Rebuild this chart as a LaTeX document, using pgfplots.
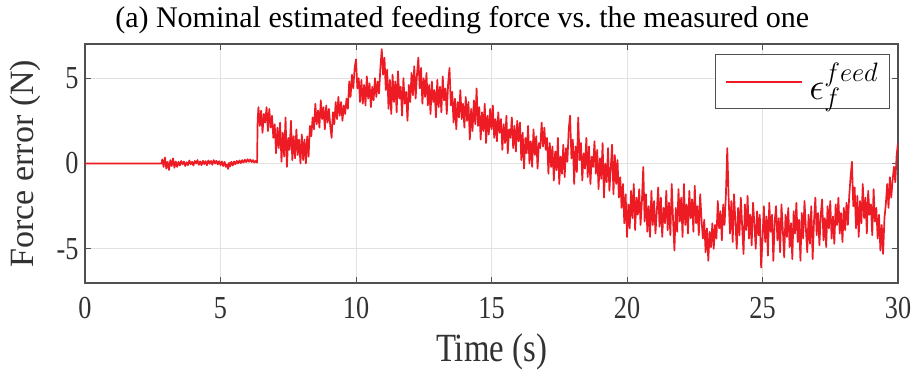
\RequirePackage{fix-cm}
\documentclass[border=0pt]{standalone}
\usepackage{fontspec}
\setmainfont{Liberation Serif}
\newfontfamily\narrowserif[FakeStretch=0.82]{Liberation Serif}
\usepackage{pgfplots}
\pgfplotsset{compat=1.18}
\definecolor{matred}{RGB}{237,28,36}
\definecolor{axgray}{RGB}{80,80,80}
\definecolor{gridgray}{RGB}{226,226,226}
\definecolor{txtgray}{RGB}{50,50,50}

\begin{document}
\begin{tikzpicture}
\begin{axis}[
  scale only axis,
  width=813pt, height=239pt,
  xmin=0, xmax=30, ymin=-7, ymax=7,
  xtick={0,5,10,15,20,25,30},
  xticklabels={0,5,10,15,20,25,30},
  ytick={-5,0,5},
  yticklabels={-5,0,5},
  tick align=inside,
  major tick length=6pt,
  tick style={axgray, line width=1pt},
  axis line style={axgray, line width=1.3pt},
  grid=major,
  grid style={gridgray, line width=1pt},
  ticklabel style={font=\narrowserif\fontsize{32}{32}\selectfont, text=txtgray},
  xticklabel style={anchor=north, yshift=-11pt},
  yticklabel style={anchor=east, xshift=-3pt},
  xlabel={Time (s)},
  ylabel={Force error (N)},
  xlabel style={font=\narrowserif\fontsize{40}{40}\selectfont, text=txtgray,
    at={(axis description cs:0.5,0)}, anchor=center, yshift=-69pt},
  ylabel style={font=\fontsize{34}{34}\selectfont, text=txtgray,
    at={(axis description cs:0,0.5)}, anchor=center, yshift=60pt},
  title={(a) Nominal estimated feeding force vs.\ the measured one},
  title style={font=\fontsize{30}{30}\selectfont, text=black,
    at={(axis description cs:0.464,1)}, anchor=base, yshift=10pt},
  legend style={at={(0.990,0.958)}, anchor=north east,
    draw=axgray, line width=1.2pt, font=\fontsize{38}{38}\selectfont,
    inner xsep=9pt, inner ysep=6pt,
    /tikz/every odd column/.append style={column sep=5pt}},
  legend image code/.code={\draw[#1, line width=1.7pt] (0pt,0pt) -- (76pt,0pt);},
]
\addplot[matred, line width=1.7pt, line join=round] coordinates {
(0,0) (2.83,0)
(2.85,0.25) (2.90,-0.2) (2.95,0.35) (3.00,-0.3) (3.05,0.1) (3.10,-0.38) (3.15,0.2) (3.20,-0.15) (3.25,0.3) (3.30,-0.25) (3.35,0.12) (3.40,-0.2)
(3.45,0.1) (3.50,-0.12) (3.55,0.15) (3.60,-0.05) (3.65,0.12) (3.70,-0.15) (3.75,0.08) (3.80,-0.1) (3.85,0.18) (3.90,-0.05) (3.95,0.1) (4.00,-0.12)
(4.05,0.15) (4.10,0.0) (4.15,0.2) (4.20,-0.08) (4.25,0.12) (4.30,-0.1) (4.35,0.16) (4.40,-0.04) (4.45,0.14) (4.50,-0.1) (4.55,0.18) (4.60,-0.02)
(4.65,0.15) (4.70,-0.08) (4.75,0.2) (4.80,0.0) (4.85,0.16) (4.90,-0.06) (4.95,0.14) (5.00,-0.1) (5.05,0.12) (5.10,-0.15) (5.15,0.1) (5.20,-0.2)
(5.25,-0.05) (5.28,-0.32) (5.32,0.05) (5.35,-0.18) (5.40,0.1) (5.45,-0.12) (5.50,0.12) (5.55,-0.05) (5.60,0.15) (5.65,0.0) (5.70,0.18) (5.75,0.02)
(5.80,0.2) (5.85,0.05) (5.90,0.22) (5.95,0.08) (6.00,0.25) (6.05,0.1) (6.10,0.24) (6.15,0.08) (6.20,0.2) (6.25,0.05) (6.30,0.15) (6.35,0.05)
(6.37,2.5) (6.40,3.3) (6.45,2.2) (6.50,3.1) (6.55,1.8) (6.60,2.9) (6.65,2.4) (6.70,3.3) (6.75,1.9) (6.80,3.2) (6.85,2.1) (6.90,2.8) (6.95,1.5) (7.00,2.3)
(7.05,0.6) (7.10,2.1) (7.15,0.9) (7.20,2.4) (7.25,0.1) (7.30,1.8)
(7.35,0.4) (7.40,2.7) (7.45,-0.2) (7.50,1.5) (7.55,0.8) (7.60,2.5) (7.65,0.2)
(7.70,1.6) (7.75,0.3) (7.80,2.0) (7.85,0.5) (7.90,1.4) (7.95,0.0) (8.00,1.7) (8.05,0.2)
(8.10,1.4) (8.15,0.0) (8.20,1.6) (8.25,0.4) (8.30,2.2) (8.35,1.6) (8.40,2.7)
(8.45,2.0) (8.50,3.5) (8.55,2.3) (8.60,3.1) (8.65,2.1) (8.70,3.7) (8.75,2.6) (8.80,3.3) (8.85,2.0) (8.90,3.4) (8.95,2.4) (9.00,3.2) (9.05,2.2) (9.10,1.5) (9.15,3.0) (9.20,2.3) (9.25,3.6)
(9.30,2.6) (9.35,3.9) (9.40,2.8) (9.45,3.6) (9.50,2.5) (9.55,3.4) (9.60,2.9) (9.65,3.8)
(9.70,3.2) (9.75,4.8) (9.80,3.9) (9.85,5.2) (9.90,4.4) (9.95,5.6) (10.00,6.1)
(10.05,4.4) (10.10,5.0) (10.15,3.6) (10.20,4.9) (10.25,3.5) (10.30,4.6) (10.35,3.4) (10.40,5.1) (10.45,3.8) (10.50,4.7) (10.55,3.3) (10.60,4.5) (10.65,3.7) (10.70,5.0) (10.75,3.9) (10.80,4.8) (10.85,4.1)
(10.90,5.6) (10.95,6.7) (11.00,5.2) (11.05,6.2)
(11.10,4.3) (11.15,5.5) (11.20,3.2) (11.25,4.9) (11.30,2.9) (11.35,5.2) (11.40,3.6) (11.45,4.8) (11.50,3.0) (11.55,5.4) (11.60,3.8) (11.65,4.5) (11.70,2.8) (11.75,5.0) (11.80,3.5) (11.85,4.2) (11.90,2.5) (11.95,4.6)
(12.00,3.6) (12.05,5.3) (12.10,4.0) (12.15,5.7) (12.20,3.8) (12.25,5.2) (12.30,6.2) (12.35,4.4) (12.40,5.6) (12.45,3.5) (12.50,5.0) (12.55,3.9)
(12.60,5.3) (12.65,3.4) (12.70,4.6) (12.75,2.9) (12.80,4.8) (12.85,3.6) (12.90,4.3) (12.95,2.7) (13.00,4.9) (13.05,3.3) (13.10,4.5) (13.15,3.0) (13.20,5.1) (13.25,3.7) (13.30,4.4) (13.35,2.9) (13.40,4.7) (13.45,5.6)
(13.50,3.4) (13.55,4.2) (13.60,2.4) (13.65,3.8) (13.70,2.0) (13.75,3.6) (13.80,2.7) (13.85,4.3) (13.90,2.6) (13.95,3.5) (14.00,2.1) (14.05,3.9)
(14.10,2.5) (14.15,3.6) (14.20,1.4) (14.25,3.2) (14.30,1.9) (14.35,3.7) (14.40,2.3) (14.45,4.4)
(14.50,2.2) (14.55,3.3) (14.60,1.4) (14.65,3.0) (14.70,1.9) (14.75,3.5) (14.80,1.2) (14.85,2.8) (14.90,1.7) (14.95,3.2) (15.00,2.0) (15.05,3.4) (15.10,1.5) (15.15,2.6) (15.20,1.3) (15.25,3.0)
(15.30,1.8) (15.35,2.6) (15.40,0.8) (15.45,2.3) (15.50,1.2) (15.55,2.8) (15.60,0.6) (15.65,2.0) (15.70,1.5) (15.75,2.7) (15.80,0.9) (15.85,2.2) (15.90,0.7) (15.95,2.5) (16.00,1.3)
(16.05,2.4) (16.10,0.2) (16.15,1.8) (16.20,-0.3) (16.25,1.5) (16.30,0.6) (16.35,2.2) (16.40,0.0) (16.45,1.3) (16.50,-0.2) (16.55,2.0) (16.60,0.5) (16.65,1.6) (16.70,-0.3) (16.75,1.2)
(16.80,0.9) (16.85,2.4) (16.90,1.0) (16.95,2.1) (17.00,0.8) (17.05,1.5)
(17.10,-0.6) (17.15,1.2) (17.20,-0.2) (17.25,1.0) (17.30,-1.0) (17.35,0.7) (17.40,-0.4) (17.45,1.5) (17.50,-1.2) (17.55,0.4) (17.60,-0.6)
(17.65,1.1) (17.70,-0.8) (17.75,0.9) (17.80,0.1) (17.85,2.0) (17.90,2.8) (17.95,0.3) (18.00,1.4) (18.05,-1.2) (18.10,1.0) (18.15,-0.5) (18.20,2.7) (18.25,0.2)
(18.30,1.2) (18.35,-1.0) (18.40,0.6) (18.45,-0.3) (18.50,1.5) (18.55,-0.8) (18.60,1.0) (18.65,-1.2) (18.70,0.4) (18.75,-0.2) (18.80,1.3) (18.85,-0.6)
(18.90,0.8) (18.95,-1.5) (19.00,0.3) (19.05,-0.9) (19.10,1.2) (19.15,-2.0) (19.20,0.0) (19.25,-1.1) (19.30,0.9) (19.35,-1.6) (19.40,-0.3) (19.45,1.1) (19.50,-1.8) (19.55,0.5) (19.60,-1.2) (19.65,0.2) (19.70,-2.0)
(19.75,-0.8) (19.80,-2.6) (19.85,-1.2) (19.90,-3.5) (19.95,-1.8) (20.00,-4.3) (20.05,-2.4) (20.10,-3.8)
(20.15,-1.6) (20.20,-3.2) (20.25,-1.2) (20.30,-3.9) (20.35,-2.0) (20.40,-3.0) (20.45,-1.5) (20.50,-3.6) (20.55,-2.2) (20.60,-0.2) (20.65,-3.4)
(20.70,-1.8) (20.75,-4.0) (20.80,-2.5) (20.85,-4.3) (20.90,-1.6) (20.95,-3.6) (21.00,-2.2) (21.05,-4.1) (21.10,-2.8) (21.15,-1.4) (21.20,-3.7) (21.25,-2.0) (21.30,-4.3) (21.35,-2.6) (21.40,-3.5)
(21.45,-1.6) (21.50,-3.9) (21.55,-2.3) (21.60,-4.2) (21.65,-1.2) (21.70,-3.3) (21.75,-5.1) (21.80,-2.6) (21.85,-4.0) (21.90,-1.5) (21.95,-3.4)
(22.00,-2.0) (22.05,-4.3) (22.10,-1.2) (22.15,-3.6) (22.20,-2.4) (22.25,-4.1) (22.30,-1.6) (22.35,-3.2) (22.40,-2.1) (22.45,-4.0) (22.50,-1.3) (22.55,-3.5) (22.60,-2.5) (22.65,-4.2) (22.70,-1.8) (22.75,-3.3)
(22.80,-4.4) (22.85,-3.3) (22.90,-5.2) (22.95,-3.8) (23.00,-5.7) (23.05,-4.0) (23.10,-4.9) (23.15,-3.5) (23.20,-5.0) (23.25,-3.6)
(23.30,-4.4) (23.35,-2.2) (23.40,-3.8) (23.45,-2.8) (23.50,-4.5) (23.55,-2.4) (23.60,-3.6) (23.65,-1.8) (23.70,0.9) (23.75,-2.0) (23.80,-4.1)
(23.85,-2.2) (23.90,-4.6) (23.95,-1.8) (24.00,-3.4) (24.05,-5.0) (24.10,-2.6) (24.15,-4.2) (24.20,-2.0) (24.25,-3.7) (24.30,-5.3) (24.35,-2.4) (24.40,-3.9) (24.45,-1.9) (24.50,-4.4)
(24.55,-3.0) (24.60,-4.8) (24.65,-2.3) (24.70,-3.5) (24.75,-5.0) (24.80,-2.8) (24.85,-4.2) (24.90,-3.0) (24.95,-6.1) (25.00,-4.4)
(25.05,-2.5) (25.10,-4.6) (25.15,-3.1) (25.20,-5.4) (25.25,-2.3) (25.30,-4.0) (25.35,-3.0) (25.40,-5.7) (25.45,-3.4) (25.50,-2.5) (25.55,-4.5) (25.60,-3.2) (25.65,-5.2) (25.70,-2.4)
(25.75,-3.9) (25.80,-5.5) (25.85,-3.0) (25.90,-4.3) (25.95,-2.6) (26.00,-4.9) (26.05,-3.5) (26.10,-5.6) (26.15,-2.8) (26.20,-4.1) (26.25,-2.3) (26.30,-4.6) (26.35,-3.3) (26.40,-5.7)
(26.45,-2.9) (26.50,-4.4) (26.55,-2.2) (26.60,-3.8) (26.65,-5.2) (26.70,-3.0) (26.75,-4.7) (26.80,-2.5) (26.85,-5.6)
(26.90,-3.4) (26.95,-2.0) (27.00,-4.2) (27.05,-2.9) (27.10,-4.8) (27.15,-3.0) (27.20,-2.1) (27.25,-4.5) (27.30,-3.2) (27.35,-4.9) (27.40,-2.5) (27.45,-3.8) (27.50,-2.2) (27.55,-4.4)
(27.60,-3.1) (27.65,-4.7) (27.70,-2.4) (27.75,-3.6) (27.80,-2.0) (27.85,-4.1) (27.90,-2.9) (27.95,-4.6) (28.00,-2.6) (28.05,-3.9) (28.10,-2.3)
(28.15,-3.6) (28.20,-1.9) (28.25,-0.8) (28.30,0.1) (28.35,-2.5)
(28.40,-1.4) (28.45,-3.8) (28.50,-1.9) (28.55,-4.3) (28.60,-2.2) (28.65,-3.5) (28.70,-1.2) (28.75,-3.2) (28.80,-2.0) (28.85,-4.1) (28.90,-1.6) (28.95,-3.0) (29.00,-2.4) (29.05,-4.2)
(29.10,-1.5) (29.15,-3.4) (29.20,-2.6) (29.25,-4.4) (29.30,-3.0) (29.35,-5.1) (29.40,-3.6) (29.45,-5.3) (29.50,-3.2)
(29.55,-2.4) (29.60,-1.2) (29.65,-2.6) (29.70,-0.8) (29.75,-2.0) (29.80,-1.0) (29.85,-0.2) (29.90,-1.1) (29.95,0.5) (30.00,1.2)
};
\addlegendentry{$\epsilon_f^{feed}$}
\end{axis}
\pgfresetboundingbox
\path (-85pt,-88pt) rectangle (830pt,283pt);
\end{tikzpicture}
\end{document}
